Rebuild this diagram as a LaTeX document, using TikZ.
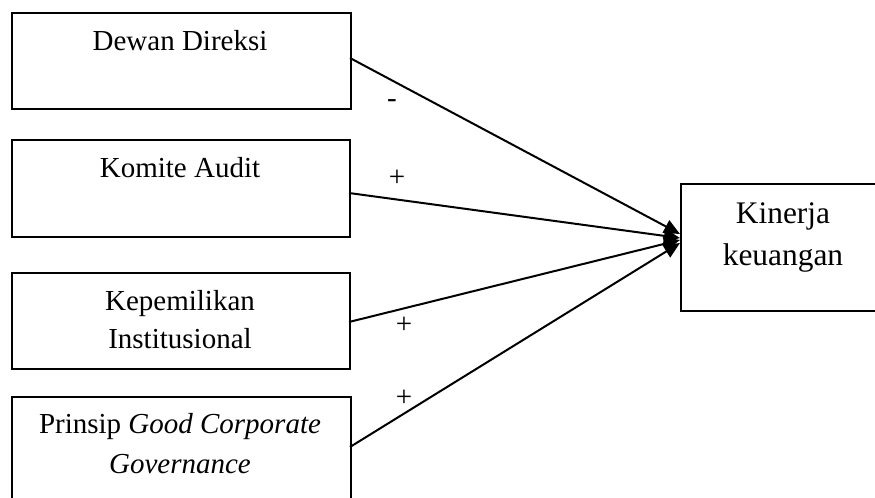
\documentclass[tikz,border=0pt]{standalone}
\usepackage{fontspec}
\setmainfont{Liberation Serif}
\usetikzlibrary{arrows.meta}
\begin{document}
\begin{tikzpicture}[x=0.5pt,y=-0.5pt,
  box/.style={draw=black,line width=1pt,inner sep=0pt,anchor=north west},
  txt/.style={anchor=base,inner sep=0pt,font=\fontsize{14.5}{17}\selectfont},
  bigtxt/.style={anchor=base,inner sep=0pt,font=\fontsize{15.7}{19}\selectfont},
  sgn/.style={anchor=center,inner sep=0pt,font=\fontsize{14.5}{17}\selectfont},
  conn/.style={line width=1pt,-{Triangle[length=8pt,width=7pt]}}]
\useasboundingbox (0,0) rectangle (875,498);
% boxes
\node[box,minimum width=169.5pt,minimum height=48pt] (b1) at (11,12) {};
\node[box,minimum width=169pt,minimum height=48.5pt] (b2) at (11,139) {};
\node[box,minimum width=169pt,minimum height=48pt] (b3) at (11,272) {};
\node[box,minimum width=169.5pt,minimum height=56pt] (b4) at (11,396) {};
\node[box,minimum width=103pt,minimum height=63.5pt] (k) at (680,183) {};
% texts
\node[txt] (t1) at (180,50) {Dewan Direksi};
\node[txt] (t2) at (180,177) {Komite Audit};
\node[txt] (t3a) at (180,310) {Kepemilikan};
\node[txt] (t3b) at (180,348) {Institusional};
\node[txt] (t4a) at (180,433) {Prinsip \textit{Good Corporate}};
\node[txt] (t4b) at (180,473) {\textit{Governance}};
\node[bigtxt] (tk1) at (783,223) {Kinerja};
\node[bigtxt] (tk2) at (783,265) {keuangan};
% connector endpoints
\coordinate (s1) at (350,58);
\coordinate (s2) at (349,193);
\coordinate (s3) at (349,322);
\coordinate (s4) at (350,447);
\coordinate (e1) at (680,234);
\coordinate (e2) at (680,238);
\coordinate (e3) at (680,240);
\coordinate (e4) at (680,243);
\draw[conn] (s1) -- (e1);
\draw[conn] (s2) -- (e2);
\draw[conn] (s3) -- (e3);
\draw[conn] (s4) -- (e4);
% signs
\node[sgn] (m1) at (392,104) {-};
\node[sgn] (p2) at (397,178) {+};
\node[sgn] (p3) at (404,325) {+};
\node[sgn] (p4) at (404,398) {+};
\end{tikzpicture}
\end{document}
